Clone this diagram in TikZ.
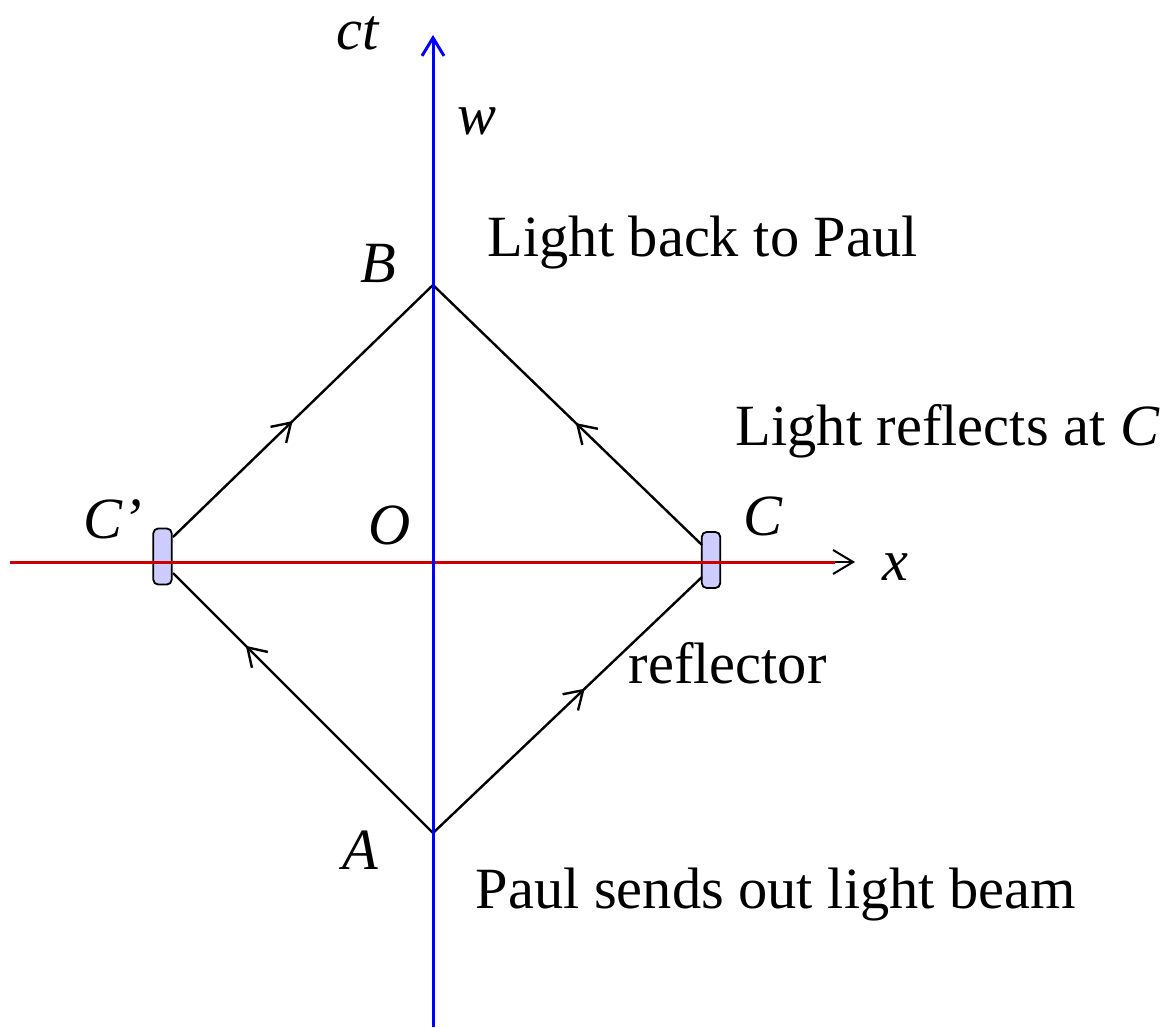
\documentclass[tikz,border=0pt]{standalone}
\usepackage{fontspec}
\setmainfont{Liberation Serif}
\usetikzlibrary{arrows.meta,decorations.markings}
\definecolor{axisblue}{RGB}{0, 0, 255}
\definecolor{axisred}{RGB}{204, 0, 0}
\definecolor{mirrorfill}{RGB}{204, 204, 255}

\begin{document}
\begin{tikzpicture}[x=0.25pt, y=0.25pt,
    txt/.style={inner sep=0pt, anchor=base west, font=\fontsize{14.6}{17}\selectfont},
    sym/.style={inner sep=0pt, anchor=base, font=\fontsize{14.6}{17}\selectfont\itshape},
    ray/.style={line width=0.6pt},
    midarrow/.style={postaction={decorate, decoration={markings,
      mark=at position #1 with {\arrow{Straight Barb[length=4.4pt, width=5.6pt]}}}}},
    mirror/.style={draw, line width=0.45pt, fill=mirrorfill, rounded corners=1.2pt,
      minimum width=4.6pt, minimum height=14pt, inner sep=0pt}]

  \useasboundingbox (-433, -465) rectangle (729, 562);

  % ── Events on Paul's world line ───────────────────────────────────────────
  \coordinate (A) at (0, -271);
  \coordinate (B) at (0, 277);

  % ── Reflectors ────────────────────────────────────────────────────────────
  \node[mirror] (Cbox)  at (278, 2) {};
  \node[mirror] (Cpbox) at (-270.5, 5.5) {};
  \coordinate (cUp)  at (269, 17);
  \coordinate (cLo)  at (269, -15);
  \coordinate (cpUp) at (-260, 25);
  \coordinate (cpLo) at (-260, -11);

  % ── Light rays ────────────────────────────────────────────────────────────
  \draw[ray, midarrow=0.565] (A) -- (cLo);
  \draw[ray, midarrow=0.47]  (cUp) -- (B);
  \draw[ray, midarrow=0.72]  (A) -- (cpLo);
  \draw[ray, midarrow=0.46]  (cpUp) -- (B);

  % ── Axes ──────────────────────────────────────────────────────────────────
  \coordinate (xstart) at (-423, 0);
  \coordinate (xend)   at (402, 0);
  \coordinate (xtip)   at (422, 0);
  \coordinate (ybot)   at (0, -465);
  \coordinate (ytop)   at (0, 527);
  \draw[axisred, line width=0.75pt] (xstart) -- (xend);
  \draw[line width=0.5pt, -{Straight Barb[length=5pt, width=6pt]}] (xend) -- (xtip);
  \draw[axisblue, line width=0.75pt, -{Straight Barb[length=4.5pt, width=5.5pt]}]
    (ybot) -- (ytop);

  % ── Labels ────────────────────────────────────────────────────────────────
  \node[sym] (lct) at (-75, 512) {ct};
  \node[sym] (lw)  at (44, 427)  {w};
  \node[sym] (lB)  at (-55, 279) {B};
  \node[sym] (lO)  at (-43, 18)  {O};
  \node[sym] (lA)  at (-73, -307) {A};
  \node[sym, anchor=base west] (lCp) at (-350, 24) {C’};
  \node[sym, anchor=base west] (lC)  at (310, 27)  {C};
  \node[sym, anchor=base west] (lx)  at (449, -18) {x};

  \node[txt] (back)    at (54, 305)   {Light back to Paul};
  \node[txt] (reflect) at (302, 117)  {Light reflects at \textit{C}};
  \node[txt] (refl)    at (195, -121) {reflector};
  \node[txt] (sends)   at (42, -346)  {Paul sends out light beam};

\end{tikzpicture}
\end{document}
